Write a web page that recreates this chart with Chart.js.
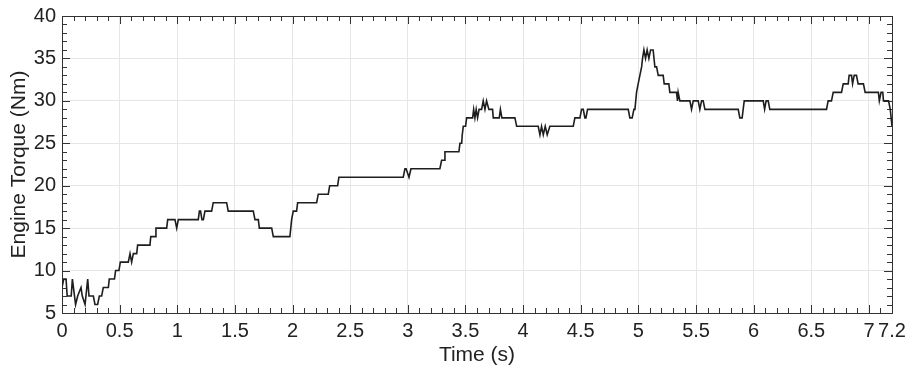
<!DOCTYPE html>
<html>
<head>
<meta charset="utf-8">
<script src="https://cdn.jsdelivr.net/npm/chart.js@4/dist/chart.umd.min.js"></script>
<style>
  html, body { margin: 0; padding: 0; background: #fff; }
  #wrap { width: 907px; height: 370px; position: relative; }
</style>
</head>
<body>
<div id="wrap"><canvas id="c"></canvas></div>
<script>
// ---- Data (time in s, torque in Nm) ----
const timeS = [
  0, 0.015, 0.035, 0.045, 0.08, 0.09, 0.118, 0.136, 0.165, 0.176, 0.2, 0.223, 0.234, 0.272, 0.286, 0.309,
  0.324, 0.344, 0.358, 0.402, 0.41, 0.455, 0.465, 0.494, 0.506, 0.575, 0.59, 0.604, 0.619, 0.648, 0.656,
  0.763, 0.77, 0.807, 0.815, 0.908, 0.917, 0.98, 0.995, 1.009, 1.182, 1.192, 1.202, 1.214, 1.226, 1.24,
  1.298, 1.312, 1.428, 1.442, 1.659, 1.674, 1.703, 1.712, 1.819, 1.833, 1.977, 1.992, 2.006, 2.035, 2.044,
  2.209, 2.223, 2.31, 2.322, 2.391, 2.402, 2.96, 2.975, 2.985, 3.01, 3.027, 3.278, 3.293, 3.316, 3.322,
  3.443, 3.452, 3.467, 3.472, 3.481, 3.501, 3.51, 3.562, 3.571, 3.582, 3.593, 3.605, 3.618, 3.64, 3.654,
  3.669, 3.683, 3.703, 3.735, 3.741, 3.793, 3.803, 3.816, 3.929, 3.944, 4.131, 4.146, 4.16, 4.175, 4.192,
  4.209, 4.232, 4.435, 4.449, 4.493, 4.507, 4.522, 4.536, 4.545, 4.559, 4.912, 4.926, 4.946, 4.961, 4.97,
  4.984, 4.998, 5.013, 5.028, 5.036, 5.048, 5.062, 5.076, 5.091, 5.106, 5.128, 5.143, 5.158, 5.172, 5.215,
  5.224, 5.264, 5.273, 5.331, 5.339, 5.345, 5.36, 5.447, 5.461, 5.476, 5.519, 5.533, 5.548, 5.562, 5.577,
  5.866, 5.88, 5.9, 5.918, 6.083, 6.095, 6.108, 6.126, 6.14, 6.632, 6.646, 6.675, 6.69, 6.762, 6.777,
  6.82, 6.828, 6.849, 6.858, 6.872, 6.892, 6.906, 6.952, 6.967, 7.082, 7.09, 7.105, 7.12, 7.126, 7.17,
  7.185, 7.2
];
const torqueNm = [
  8, 9, 9, 7, 7, 9, 6, 7, 8, 7, 6, 9, 7, 7, 6, 6,
  7, 7, 8, 8, 9, 9, 10, 10, 11, 11, 12, 11, 12, 12, 13,
  13, 14, 14, 15, 15, 16, 16, 15, 16, 16, 17, 17, 16, 16, 17,
  17, 18, 18, 17, 17, 16, 16, 15, 15, 14, 14, 16, 17, 17, 18,
  18, 19, 19, 20, 20, 21, 21, 22, 22, 21, 22, 22, 23, 23, 24,
  24, 25, 25, 26, 27, 27, 28, 28, 29, 28, 29, 28, 29, 29, 30,
  29, 30, 29, 29, 28, 28, 29, 28, 28, 27, 27, 26, 27, 26, 27,
  26, 27, 27, 28, 28, 29, 29, 28, 28, 29, 29, 28, 28, 29, 29,
  31, 32, 33, 34, 35, 36, 35, 36, 35, 36, 36, 34, 34, 33, 33,
  32, 32, 31, 31, 30, 31, 30, 30, 29, 30, 30, 29, 30, 30, 29,
  29, 28, 28, 30, 30, 29, 30, 30, 29, 29, 30, 30, 31, 31, 32,
  32, 33, 33, 32, 33, 33, 32, 32, 31, 31, 30, 31, 31, 30, 30,
  29, 27
];
const xTickValues = [0, 0.5, 1, 1.5, 2, 2.5, 3, 3.5, 4, 4.5, 5, 5.5, 6, 6.5, 7, 7.2];
const xTickLabels = ['0', '0.5', '1', '1.5', '2', '2.5', '3', '3.5', '4', '4.5', '5', '5.5', '6', '6.5', '7', '7.2'];
const yTickValues = [5, 10, 15, 20, 25, 30, 35, 40];
const yTickLabels = ['5', '10', '15', '20', '25', '30', '35', '40'];
const xTitle = 'Time (s)';
const yTitle = 'Engine Torque (Nm)';

// ---- Chart ----
const points = timeS.map((t, i) => ({ x: t, y: torqueNm[i] }));
const FONT = "'Liberation Sans', Arial, sans-serif";
const TXT = '#222';

const framePlugin = {
  id: 'frame',
  beforeDatasetsDraw(chart) {
    const { ctx, chartArea: a, scales } = chart;
    const xs = scales.x, ys = scales.y;
    ctx.save();
    ctx.strokeStyle = '#333';
    ctx.lineWidth = 1;
    ctx.beginPath();
    for (let k = 0; k <= 72; k++) {
      const v = k / 10;
      const px = Math.round(xs.getPixelForValue(v)) + 0.5;
      const major = (k % 5 === 0) || k === 72;
      const L = major ? 8 : 5;
      ctx.moveTo(px, a.bottom); ctx.lineTo(px, a.bottom - L);
      ctx.moveTo(px, a.top); ctx.lineTo(px, a.top + L);
    }
    for (let v = 5; v <= 40; v++) {
      const py = Math.round(ys.getPixelForValue(v)) + 0.5;
      const L = (v % 5 === 0) ? 8 : 5;
      ctx.moveTo(a.left, py); ctx.lineTo(a.left + L, py);
      ctx.moveTo(a.right, py); ctx.lineTo(a.right - L, py);
    }
    ctx.stroke();
    ctx.strokeRect(Math.round(a.left) + 0.5, Math.round(a.top) + 0.5,
                   Math.round(a.right - a.left), Math.round(a.bottom - a.top));
    ctx.restore();
  }
};

new Chart(document.getElementById('c'), {
  type: 'line',
  data: {
    datasets: [{
      data: points,
      borderColor: '#1e1e1e',
      borderWidth: 1.6,
      pointRadius: 0,
      tension: 0,
      fill: false
    }]
  },
  options: {
    responsive: true,
    maintainAspectRatio: false,
    animation: false,
    layout: { padding: { top: 16, right: 15, left: 0, bottom: 0 } },
    plugins: { legend: { display: false }, tooltip: { enabled: false } },
    scales: {
      x: {
        type: 'linear',
        min: 0, max: 7.2,
        afterBuildTicks: (s) => { s.ticks = xTickValues.map(v => ({ value: v })); },
        afterFit: (s) => { s.height = 57; s.paddingLeft = 0; s.paddingRight = 0; },
        grid: { color: '#e6e6e6', lineWidth: 1, drawTicks: false },
        border: { display: false },
        ticks: {
          autoSkip: false, maxRotation: 0, padding: 6, color: TXT,
          font: { family: FONT, size: 20 },
          callback: (v) => { const i = xTickValues.indexOf(v); return i >= 0 ? xTickLabels[i] : ''; }
        },
        title: { display: true, text: xTitle, color: TXT, font: { family: FONT, size: 21 }, padding: { top: 0, bottom: 2 } }
      },
      y: {
        min: 5, max: 40,
        afterBuildTicks: (s) => { s.ticks = yTickValues.map(v => ({ value: v })); },
        afterFit: (s) => { s.width = 62; s.paddingTop = 0; s.paddingBottom = 0; },
        grid: { color: '#e6e6e6', lineWidth: 1, drawTicks: false },
        border: { display: false },
        ticks: {
          autoSkip: false, padding: 6, color: TXT,
          font: { family: FONT, size: 20 },
          callback: (v) => { const i = yTickValues.indexOf(v); return i >= 0 ? yTickLabels[i] : ''; }
        },
        title: { display: true, text: yTitle, color: TXT, font: { family: FONT, size: 21 }, padding: { top: 7, bottom: 0 } }
      }
    }
  },
  plugins: [framePlugin]
});
</script>
</body>
</html>
